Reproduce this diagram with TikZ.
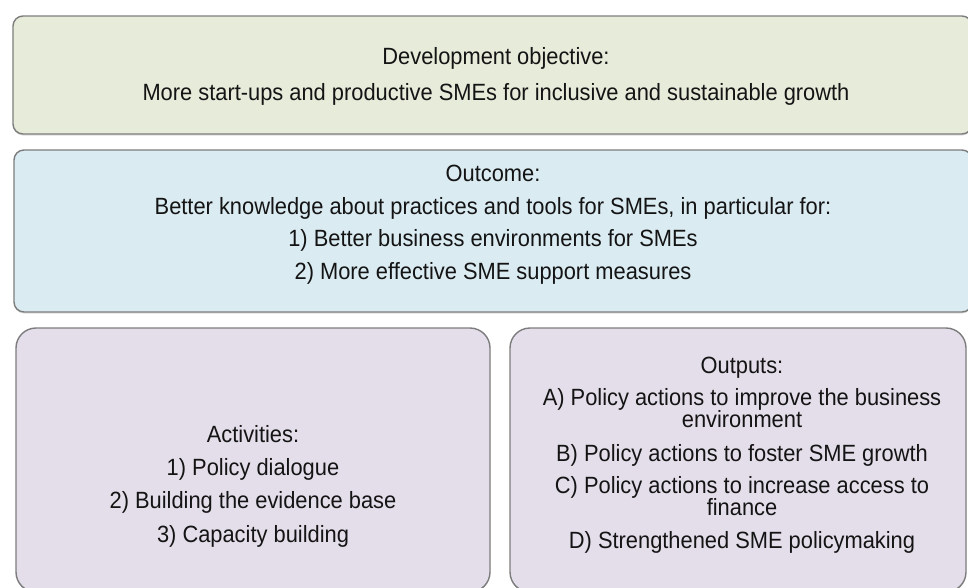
\documentclass[tikz,border=0pt]{standalone}
\usepackage{fontspec}
\setmainfont[FakeStretch=0.93]{Liberation Sans}
\usetikzlibrary{shadows}
\definecolor{goalfill}{RGB}{230,235,218}
\definecolor{outcomefill}{RGB}{218,235,242}
\definecolor{actfill}{RGB}{228,222,234}
\definecolor{edgegray}{RGB}{125,125,125}
\newcommand\panelfont{\fontsize{23.5}{22}\selectfont\lineskiplimit=-30pt\relax}
\tikzset{
  panel/.style={draw=edgegray, line width=1.4pt,
    drop shadow={shadow xshift=0pt, shadow yshift=-1.5pt, opacity=0.25}},
  txt/.style={align=center, inner sep=0pt, text=black!92, font=\panelfont}
}
\begin{document}
\begin{tikzpicture}[x=1pt, y=-1pt]
			%%%%% FRAME %%%%%
			\useasboundingbox[fill=white] (0, 0) rectangle (968, 587);
			
			%%%%% PANELS %%%%%
			\draw[panel, fill=goalfill, rounded corners=10pt] (13, 16) rectangle (972, 134);
			\draw[panel, fill=outcomefill, rounded corners=10pt] (14, 150) rectangle (972, 312);
			\draw[panel, fill=actfill, rounded corners=20pt] (16, 328) rectangle (490, 592);
			\draw[panel, fill=actfill, rounded corners=20pt] (510, 328) rectangle (966, 592);
			
			%%%%% TEXTS %%%%%
			\node[txt] (goal) at (496, 76) {Development objective:\\[14pt]
				More start-ups and productive SMEs for inclusive and sustainable growth};
			
			\node[txt] (outcome) at (493, 224.5) {Outcome:\\[10.5pt]
				Better knowledge about practices and tools for SMEs, in particular for:\\[10.5pt]
				1) Better business environments for SMEs\\[10.5pt]
				2) More effective SME support measures};
			
			\node[txt] (activities) at (253, 486) {Activities:\\[11.3pt]
				1) Policy dialogue\\[11.3pt]
				2) Building the evidence base\\[11.3pt]
				3) Capacity building};
			
			\node[txt] (outputs) at (742, 455) {Outputs:\\[10.5pt]
				A) Policy actions to improve the business\\
				environment\\[11.5pt]
				B) Policy actions to foster SME growth\\[10.5pt]
				C) Policy actions to increase access to\\
				finance\\[11pt]
				D) Strengthened SME policymaking};
			
			%%%%% END %%%%%
\end{tikzpicture}
\end{document}
